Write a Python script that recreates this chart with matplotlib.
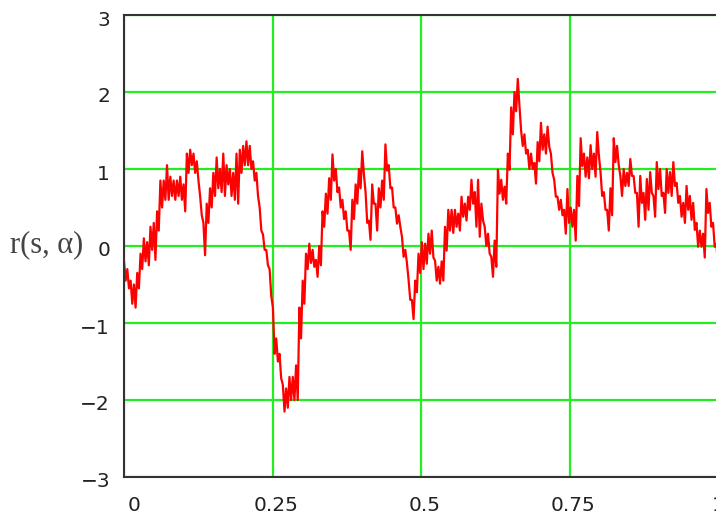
import numpy as np
import matplotlib
matplotlib.use("Agg")
import matplotlib.pyplot as plt
from matplotlib.transforms import ScaledTranslation

# Upper / lower envelope of the noisy trace
upper = [-0.2, -0.3, -0.45, -0.5, -0.35, -0.1, 0.1, 0.05, 0.25, 0.3,
         0.45, 0.85, 0.85, 1.05, 0.9, 0.85, 0.85, 0.9, 0.8, 1.2,
         1.25, 1.2, 1.1, 0.65, 0.3, 0.55, 0.75, 0.95, 1.15, 1.0,
         1.2, 1.05, 1.0, 0.95, 1.2, 1.25, 1.3, 1.36, 1.3, 1.1,
         0.95, 0.5, 0.15, -0.05, -0.3, -0.8, -1.2, -1.4, -1.8, -1.85,
         -1.7, -1.7, -1.55, -0.8, -0.45, -0.1, 0.03, -0.05, -0.18, 0.0,
         0.45, 0.68, 0.88, 1.19, 1.0, 0.76, 0.6, 0.45, 0.2, 0.6,
         0.8, 1.0, 1.23, 0.7, 0.33, 0.8, 0.55, 0.75, 0.85, 1.32,
         1.05, 0.76, 0.5, 0.4, 0.12, -0.05, -0.44, -0.7, -0.45, -0.1,
         0.05, 0.03, 0.16, 0.2, -0.19, -0.27, -0.2, 0.25, 0.47, 0.47,
         0.47, 0.42, 0.64, 0.55, 0.64, 0.86, 0.7, 0.86, 0.55, 0.25,
         0.16, -0.14, 0.07, 0.99, 0.86, 0.77, 1.2, 1.8, 2.0, 2.17,
         1.5, 1.45, 1.25, 1.2, 1.08, 1.35, 1.6, 1.45, 1.55, 1.2,
         0.86, 0.64, 0.6, 0.47, 0.74, 0.5, 0.47, 0.91, 1.4, 1.2,
         1.15, 1.31, 1.2, 1.48, 0.96, 0.7, 0.47, 0.75, 1.4, 1.3,
         0.91, 1.0, 0.95, 1.13, 0.91, 0.69, 0.91, 0.69, 0.87, 0.96,
         0.65, 1.09, 1.0, 0.69, 1.0, 0.96, 1.09, 0.82, 0.65, 0.56,
         0.78, 0.65, 0.56, 0.3, 0.2, 0.16, 0.74, 0.56, 0.3, 0.03]
lower = [-0.45, -0.55, -0.75, -0.8, -0.55, -0.3, -0.2, -0.25, -0.05, -0.18,
         0.2, 0.5, 0.6, 0.6, 0.65, 0.6, 0.65, 0.6, 0.45, 0.95,
         1.05, 0.95, 0.85, 0.4, -0.12, 0.3, 0.5, 0.65, 0.75, 0.7,
         0.65, 0.8, 0.65, 0.6, 0.55, 0.95, 1.05, 1.05, 1.0, 0.85,
         0.65, 0.2, -0.05, -0.25, -0.65, -1.4, -1.5, -1.72, -2.15, -2.1,
         -2.0, -2.0, -2.0, -1.2, -0.75, -0.3, -0.22, -0.27, -0.4, -0.25,
         0.25, 0.42, 0.6, 0.85, 0.7, 0.5, 0.35, 0.2, -0.05, 0.35,
         0.55, 0.75, 0.93, 0.3, 0.08, 0.55, 0.2, 0.5, 0.6, 0.98,
         0.75, 0.5, 0.29, 0.25, -0.14, -0.22, -0.7, -0.95, -0.6, -0.35,
         -0.3, -0.23, -0.1, -0.15, -0.45, -0.49, -0.45, -0.06, 0.2, 0.17,
         0.25, 0.2, 0.38, 0.33, 0.47, 0.55, 0.25, 0.12, 0.33, 0.0,
         -0.1, -0.4, -0.27, 0.68, 0.6, 0.55, 0.99, 1.45, 1.75, 1.82,
         1.3, 1.2, 1.0, 1.0, 0.81, 1.1, 1.25, 1.2, 1.29, 0.95,
         0.64, 0.47, 0.4, 0.16, 0.3, 0.25, 0.07, 0.52, 1.04, 0.9,
         0.88, 1.0, 0.9, 1.18, 0.65, 0.47, 0.2, 0.4, 1.09, 1.05,
         0.65, 0.78, 0.78, 0.91, 0.69, 0.25, 0.56, 0.34, 0.47, 0.69,
         0.38, 0.74, 0.65, 0.43, 0.69, 0.65, 0.78, 0.56, 0.38, 0.3,
         0.47, 0.34, 0.21, -0.01, -0.01, -0.15, 0.43, 0.25, -0.01, -0.25]

x_ticks = [0, 0.25, 0.5, 0.75, 1]
x_tick_labels = ["0", "0.25", "0.5", "0.75", "1"]
y_ticks = [-3, -2, -1, 0, 1, 2, 3]
y_tick_labels = ["\u22123", "\u22122", "\u22121", "0", "1", "2", "3"]
y_label = "r(s, \u03b1)"

r = np.column_stack([upper, lower]).ravel()
s = np.linspace(0, 1, len(r))

W, H = 716, 517
fig = plt.figure(figsize=(W / 100, H / 100), dpi=100)
ax = fig.add_axes([124 / W, 40 / H, 594 / W, 462 / H])

ax.plot(s, r, color="#ff0000", lw=1.6, zorder=3)

ax.set_xlim(0, 1)
ax.set_ylim(-3, 3)
ax.set_xticks(x_ticks)
ax.set_xticklabels(x_tick_labels)
ax.set_yticks(y_ticks)
ax.set_yticklabels(y_tick_labels)
ax.grid(True, color="#22ee22", lw=1.6, zorder=1)
ax.tick_params(length=0, labelsize=14.5, labelcolor="#222222")
ax.tick_params(axis="x", pad=14)
ax.tick_params(axis="y", pad=10)
xlabs = ax.get_xticklabels()
for lab in xlabs[:-1]:
    lab.set_transform(lab.get_transform() + ScaledTranslation(4 / 100, 0, fig.dpi_scale_trans))
xlabs[0].set_ha("left")
for lab in ax.get_yticklabels():
    lab.set_transform(lab.get_transform() + ScaledTranslation(0, -3 / 100, fig.dpi_scale_trans))

for side in ["left", "bottom", "top", "right"]:
    ax.spines[side].set_color("#333333")
    ax.spines[side].set_linewidth(1.5)
    ax.spines[side].set_zorder(4)

fig.text(10 / W, 1 - 245 / H, y_label, family="Liberation Serif",
         fontsize=22, color="#444444", ha="left", va="center")

fig.savefig("out.png", dpi=100)
